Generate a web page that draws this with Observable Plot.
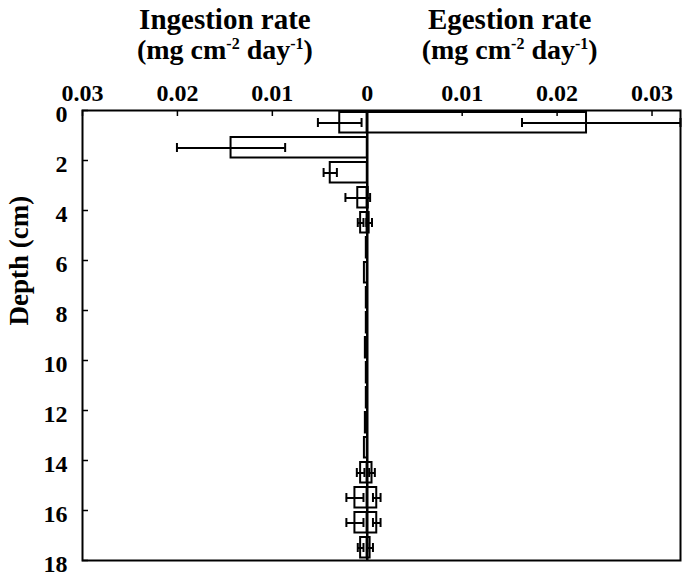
<!DOCTYPE html>
<html><head><meta charset="utf-8">
<script src="https://cdn.jsdelivr.net/npm/d3@7"></script>
<script src="https://cdn.jsdelivr.net/npm/@observablehq/plot@0.6"></script>
<style>
body{margin:0;background:#fff;}
svg{display:block;}
</style>
</head><body><div id="chart"></div>
<script>
// Depth layers (top of each 1-cm slice, cm)
const depthTop = [0,1,2,3,4,5,6,7,8,9,10,11,12,13,14,15,16,17];
// Ingestion rate (mg cm-2 day-1) and its error
const ingestion    = [0.0029,0.01435,0.0039,0.0010,0.0007,0.0001,0.0003,0.0001,0.0001,0.0002,0.0001,0.0001,0.0002,0.0003,0.0007,0.0013,0.0013,0.0007];
const ingestionErr = [0.0023,0.0057,0.0007,0.0013,0.0003,0,0,0,0,0,0,0,0,0,0.0004,0.0009,0.0009,0.0003];
// Egestion rate (mg cm-2 day-1) and its error (lower / upper)
const egestion         = [0.0231,0,0,0.0001,0.0002,0,0,0,0,0,0,0,0,0,0.0005,0.0010,0.0010,0.0003];
const egestionErrMinus = [0.0068,0,0,0,0.0003,0,0,0,0,0,0,0,0,0,0.0003,0.0004,0.0004,0.0003];
const egestionErrPlus  = [0.0099,0,0,0,0.0003,0,0,0,0,0,0,0,0,0,0.0003,0.0004,0.0004,0.0003];
// Axis ticks
const xTicks = [-0.03,-0.02,-0.01,0,0.01,0.02,0.03];
const xTickLabels = ["0.03","0.02","0.01","0","0.01","0.02","0.03"];
const yTicks = [0,2,4,6,8,10,12,14,16,18];
const titles = ["Ingestion rate","Egestion rate"];
const units = "(mg cm-2 day-1)";
const yLabel = "Depth (cm)";

const W = 683, H = 577;
const mL = 82, mR = 3, mT = 110, mB = 17;
const font = "'Liberation Serif', 'Times New Roman', serif";

const rows = depthTop.map((d,i)=>({
  top: d, bottom: d+1, mid: d+0.5,
  ing: ingestion[i], ingErr: ingestionErr[i],
  eg: egestion[i], egLo: egestionErrMinus[i], egHi: egestionErrPlus[i]
}));
const ingErrRows = rows.filter(r=>r.ingErr>0);
const egErrRows = rows.filter(r=>r.egLo>0||r.egHi>0);
const cap = 0.18;
const xMax = 0.033;
const titleRows = titles.map((t,i)=>({t, x: (i===0?-1:1)*d3.max(xTicks)/2}));

const plot = Plot.plot({
  width: W, height: H,
  marginLeft: mL, marginRight: mR, marginTop: mT, marginBottom: mB,
  style: {fontFamily: font, fontWeight: "bold", background: "#fff", color: "#000"},
  x: {domain: [d3.min(xTicks), xMax], axis: null},
  y: {domain: [0, 18], reverse: true, axis: null},
  marks: [
    // ingestion bars (drawn leftwards)
    Plot.rectX(rows, {x1: r=>-r.ing, x2: 0, y1: "top", y2: "bottom", insetTop: 2, insetBottom: 2.5, fill: "#fff", stroke: "#000", strokeWidth: 2}),
    // egestion bars (rightwards)
    Plot.rectX(rows, {x1: 0, x2: "eg", y1: "top", y2: "bottom", insetTop: 2, insetBottom: 2.5, fill: "#fff", stroke: "#000", strokeWidth: 2}),
    // ingestion error bars
    Plot.ruleY(ingErrRows, {y: "mid", x1: r=>-r.ing-r.ingErr, x2: r=>-r.ing+r.ingErr, stroke: "#000", strokeWidth: 2}),
    Plot.ruleX(ingErrRows, {x: r=>-r.ing-r.ingErr, y1: r=>r.mid-cap, y2: r=>r.mid+cap, stroke: "#000", strokeWidth: 2}),
    Plot.ruleX(ingErrRows, {x: r=>-r.ing+r.ingErr, y1: r=>r.mid-cap, y2: r=>r.mid+cap, stroke: "#000", strokeWidth: 2}),
    // egestion error bars
    Plot.ruleY(egErrRows, {y: "mid", x1: r=>r.eg-r.egLo, x2: r=>Math.min(xMax, r.eg+r.egHi), stroke: "#000", strokeWidth: 2}),
    Plot.ruleX(egErrRows, {x: r=>r.eg-r.egLo, y1: r=>r.mid-cap, y2: r=>r.mid+cap, stroke: "#000", strokeWidth: 2}),
    Plot.ruleX(egErrRows, {x: r=>Math.min(xMax, r.eg+r.egHi), y1: r=>r.mid-cap, y2: r=>r.mid+cap, stroke: "#000", strokeWidth: 2}),
    // zero line
    Plot.ruleX([0], {stroke: "#000", strokeWidth: 2.5}),
    // frame
    Plot.frame({stroke: "#000", strokeWidth: 2}),
    // inward ticks
    Plot.tickX(xTicks, {x: d=>d, insetBottom: H-mT-mB-6, stroke: "#000", strokeWidth: 1.5}),
    Plot.tickY(yTicks, {y: d=>d, insetRight: W-mL-mR-6, stroke: "#000", strokeWidth: 1.5}),
    // tick labels
    Plot.text(xTicks, {x: d=>d, text: (d,i)=>xTickLabels[i], frameAnchor: "top", dy: -10, lineAnchor: "bottom", fontSize: 24, fontWeight: "bold", fontFamily: font, fill: "#000"}),
    Plot.text(yTicks, {y: d=>d, text: d=>String(d), frameAnchor: "left", dx: -15, dy: 4, textAnchor: "end", fontSize: 24, fontWeight: "bold", fontFamily: font, fill: "#000"}),
    // titles
    Plot.text(titleRows, {x: "x", text: "t", frameAnchor: "top", dy: -82, lineAnchor: "bottom", fontSize: 29, fontWeight: "bold", fontFamily: font, fill: "#000"}),
    Plot.text(titleRows, {x: "x", text: ()=>units, frameAnchor: "top", dy: -52, lineAnchor: "bottom", fontSize: 28, fontWeight: "bold", fontFamily: font, fill: "#000"}),
    // y label
    Plot.text([yLabel], {text: d=>d, frameAnchor: "left", dx: -74, dy: -10, rotate: -90, lineAnchor: "top", fontSize: 27, fontWeight: "bold", fontFamily: font, fill: "#000"})
  ]
});

// superscripts in the unit lines
d3.select(plot).selectAll("text").each(function(){
  if (this.textContent === units) {
    const t = d3.select(this);
    t.text(null);
    t.append("tspan").text("(mg cm");
    t.append("tspan").attr("dy", -10).attr("font-size", 16).text("-2");
    t.append("tspan").attr("dy", 10).text(" day");
    t.append("tspan").attr("dy", -10).attr("font-size", 16).text("-1");
    t.append("tspan").attr("dy", 10).text(")");
  }
});

document.getElementById("chart").appendChild(plot);
</script>
</body></html>
